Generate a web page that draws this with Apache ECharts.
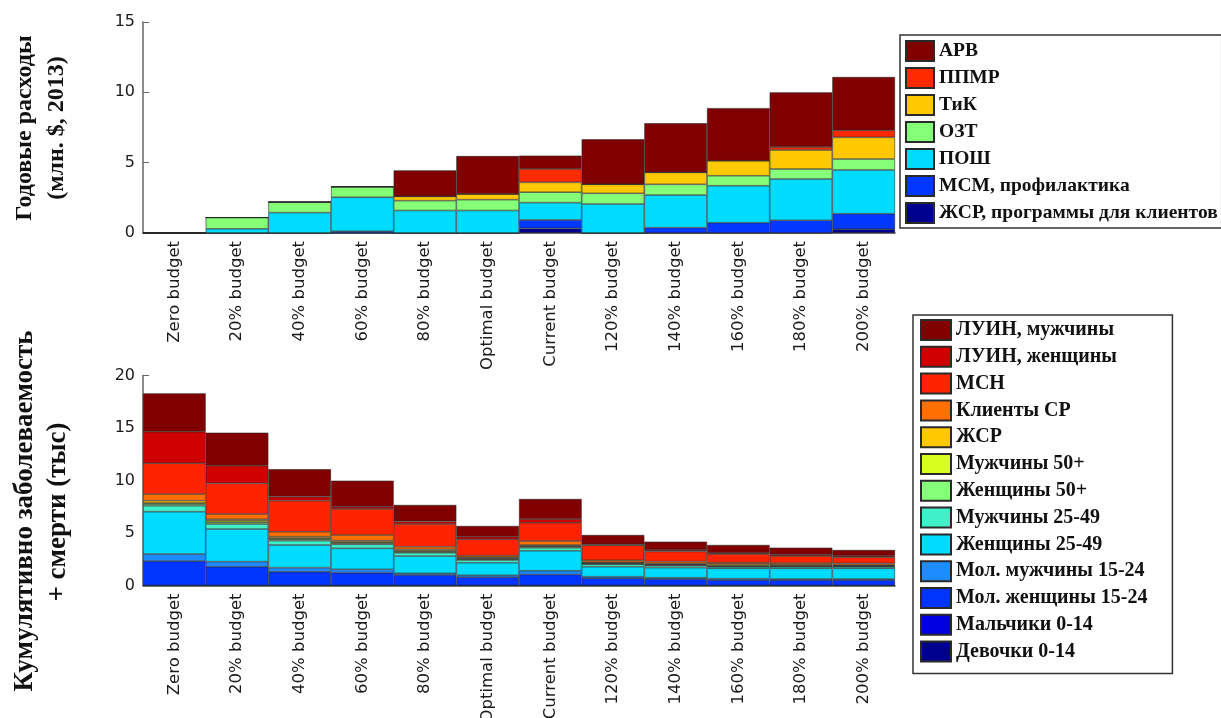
<!DOCTYPE html>
<html>
<head>
<meta charset="utf-8">
<script src="https://cdn.jsdelivr.net/npm/echarts@6/dist/echarts.min.js"></script>
<style>
  html, body { margin: 0; padding: 0; background: #fff; }
  #chart { width: 1221px; height: 718px; }
</style>
</head>
<body>
<div id="chart"></div>
<script>
// Budget scenarios (shared by both panels)
const categories = ['Zero budget', '20% budget', '40% budget', '60% budget', '80% budget',
  'Optimal budget', 'Current budget', '120% budget', '140% budget', '160% budget',
  '180% budget', '200% budget'];

// Annual spending per programme, million $ (stacked bottom to top)
const spendFswClients = [0, 0, 0, 0, 0, 0, 0.33, 0, 0, 0, 0, 0.27];
const spendMsmPrev    = [0, 0, 0, 0.12, 0, 0, 0.6, 0, 0.38, 0.73, 0.9, 1.1];
const spendPosh       = [0, 0.3, 1.45, 2.42, 1.6, 1.6, 1.23, 2.06, 2.32, 2.63, 2.94, 3.11];
const spendOzt        = [0, 0.8, 0.75, 0.75, 0.7, 0.77, 0.74, 0.76, 0.76, 0.71, 0.71, 0.78];
const spendTik        = [0, 0, 0, 0, 0.3, 0.4, 0.7, 0.64, 0.85, 1.07, 1.35, 1.54];
const spendPpmr       = [0, 0, 0, 0, 0, 0, 0.95, 0, 0, 0, 0.21, 0.5];
const spendArv        = [0, 0, 0, 0, 1.85, 2.7, 0.95, 3.2, 3.49, 3.74, 3.89, 3.79];

// Cumulative infections + deaths per population, thousands (stacked bottom to top)
const casesGirls      = [0, 0, 0, 0, 0, 0, 0, 0, 0, 0, 0, 0];
const casesBoys       = [0, 0, 0, 0, 0, 0, 0, 0, 0, 0, 0, 0];
const casesYoungWomen = [2.33, 1.79, 1.31, 1.22, 1.0, 0.78, 1.05, 0.69, 0.62, 0.52, 0.52, 0.52];
const casesYoungMen   = [0.67, 0.48, 0.39, 0.32, 0.16, 0.19, 0.36, 0.15, 0.12, 0.13, 0.1, 0.1];
const casesWomen2549  = [4.03, 3.11, 2.16, 2.0, 1.65, 1.2, 1.9, 0.95, 0.96, 0.99, 1.02, 1.02];
const casesMen2549    = [0.57, 0.48, 0.41, 0.38, 0.31, 0.26, 0.29, 0.23, 0.19, 0.15, 0.15, 0.15];
const casesWomen50    = [0.16, 0.16, 0.14, 0.12, 0.1, 0.08, 0.1, 0.07, 0.07, 0.06, 0.06, 0.05];
const casesMen50      = [0.1, 0.15, 0.1, 0.1, 0.08, 0.08, 0.06, 0.05, 0.05, 0.05, 0.05, 0.05];
const casesFsw        = [0.22, 0.13, 0.14, 0.13, 0.14, 0.1, 0.1, 0.07, 0.07, 0.15, 0.08, 0.06];
const casesClients    = [0.63, 0.51, 0.47, 0.54, 0.26, 0.15, 0.38, 0.19, 0.19, 0.12, 0.16, 0.16];
const casesMsm        = [2.93, 2.92, 2.96, 2.48, 2.16, 1.56, 1.74, 1.43, 0.98, 0.83, 0.67, 0.58];
const casesPwidFemale = [3.01, 1.68, 0.38, 0.21, 0.25, 0.25, 0.35, 0.09, 0.13, 0.1, 0.12, 0.12];
const casesPwidMale   = [3.65, 3.14, 2.61, 2.48, 1.56, 1.02, 1.91, 0.89, 0.79, 0.76, 0.67, 0.57];

const spendSeries = [
  { name: 'ЖСР, программы для клиентов', data: spendFswClients, color: '#00008f' },
  { name: 'МСМ, профилактика', data: spendMsmPrev, color: '#0038ff' },
  { name: 'ПОШ', data: spendPosh, color: '#00dcff' },
  { name: 'ОЗТ', data: spendOzt, color: '#86ff78' },
  { name: 'ТиК', data: spendTik, color: '#ffc800' },
  { name: 'ППМР', data: spendPpmr, color: '#ff2a00' },
  { name: 'АРВ', data: spendArv, color: '#800000' }
];

const caseSeries = [
  { name: 'Девочки 0-14', data: casesGirls, color: '#00008f' },
  { name: 'Мальчики 0-14', data: casesBoys, color: '#0000e0' },
  { name: 'Мол. женщины 15-24', data: casesYoungWomen, color: '#0034ff' },
  { name: 'Мол. мужчины 15-24', data: casesYoungMen, color: '#1e8cff' },
  { name: 'Женщины 25-49', data: casesWomen2549, color: '#00dcff' },
  { name: 'Мужчины 25-49', data: casesMen2549, color: '#40f0c8' },
  { name: 'Женщины 50+', data: casesWomen50, color: '#86ff78' },
  { name: 'Мужчины 50+', data: casesMen50, color: '#d8ff20' },
  { name: 'ЖСР', data: casesFsw, color: '#ffc800' },
  { name: 'Клиенты СР', data: casesClients, color: '#ff7000' },
  { name: 'МСН', data: casesMsm, color: '#ff2400' },
  { name: 'ЛУИН, женщины', data: casesPwidFemale, color: '#d00000' },
  { name: 'ЛУИН, мужчины', data: casesPwidMale, color: '#800000' }
];

const tickFont = { fontFamily: 'DejaVu Sans', fontSize: 16, color: '#1a1a1a' };
const catFont = { fontFamily: 'DejaVu Sans', fontSize: 16.5, color: '#1a1a1a' };
const topLegendFont = { fontFamily: 'Liberation Serif', fontWeight: 'bold', fontSize: 19.5, lineHeight: 20, color: '#111' };
const bottomLegendFont = { fontFamily: 'Liberation Serif', fontWeight: 'bold', fontSize: 20, lineHeight: 20, color: '#111' };
const topTitleFont = 'bold 24px "Liberation Serif"';
const bottomTitleFont = 'bold 27px "Liberation Serif"';

function makeBars(list, axisIndex, stack) {
  return list.map(s => ({
    name: s.name,
    type: 'bar',
    stack: stack,
    xAxisIndex: axisIndex,
    yAxisIndex: axisIndex,
    barCategoryGap: '0%',
    data: s.data,
    itemStyle: { color: s.color, borderColor: '#2a2a2a', borderWidth: 0.6 },
    emphasis: { disabled: true }
  }));
}

function catAxis(gridIndex) {
  return {
    type: 'category',
    gridIndex: gridIndex,
    data: categories,
    axisLine: { lineStyle: { color: '#444', width: 1.5 } },
    axisTick: { inside: true, alignWithLabel: true, length: 6, lineStyle: { color: '#444' } },
    axisLabel: Object.assign({ rotate: 90, margin: 8, interval: 0 }, catFont),
    splitLine: { show: false }
  };
}

function valAxis(gridIndex, max) {
  return {
    type: 'value',
    gridIndex: gridIndex,
    min: 0,
    max: max,
    interval: 5,
    axisLine: { show: true, lineStyle: { color: '#666', width: 1.5 } },
    axisTick: { show: true, inside: true, length: 6, lineStyle: { color: '#666' } },
    axisLabel: Object.assign({ margin: 8 }, tickFont),
    splitLine: { show: false }
  };
}

function titleText(text, x, y, font) {
  return {
    type: 'text', x: x, y: y, rotation: Math.PI / 2,
    style: { text: text, font: font, fill: '#111', textAlign: 'center', textVerticalAlign: 'middle' }
  };
}

const chart = echarts.init(document.getElementById('chart'), null, { renderer: 'canvas' });

chart.setOption({
  animation: false,
  backgroundColor: '#fff',
  grid: [
    { left: 143, right: 326, top: 22, height: 211, containLabel: false, outerBoundsMode: 'none' },
    { left: 143, right: 326, top: 375.5, height: 210, containLabel: false, outerBoundsMode: 'none' }
  ],
  xAxis: [catAxis(0), catAxis(1)],
  yAxis: [valAxis(0, 15), valAxis(1, 20)],
  legend: [
    {
      orient: 'vertical',
      left: 900,
      top: 35,
      data: spendSeries.map(s => s.name).reverse(),
      itemWidth: 28,
      itemHeight: 20,
      itemGap: 5,
      padding: [5, 4, 4, 5],
      borderColor: '#333',
      borderWidth: 1.5,
      selectedMode: false,
      icon: 'rect',
      textStyle: topLegendFont
    },
    {
      orient: 'vertical',
      left: 913,
      top: 315,
      data: caseSeries.map(s => s.name).reverse(),
      itemWidth: 30,
      itemHeight: 20,
      itemGap: 4.8,
      padding: [4, 25, 11, 7],
      borderColor: '#333',
      borderWidth: 1.5,
      selectedMode: false,
      icon: 'rect',
      textStyle: bottomLegendFont
    }
  ],
  graphic: [
    titleText('Годовые расходы', 25, 128, topTitleFont),
    titleText('(млн. $, 2013)', 57, 128, topTitleFont),
    titleText('Кумулятивно заболеваемость', 25, 511, bottomTitleFont),
    titleText('+ смерти (тыс)', 58, 512, bottomTitleFont)
  ],
  series: makeBars(spendSeries, 0, 'spend').concat(makeBars(caseSeries, 1, 'cases'))
});
</script>
</body>
</html>
